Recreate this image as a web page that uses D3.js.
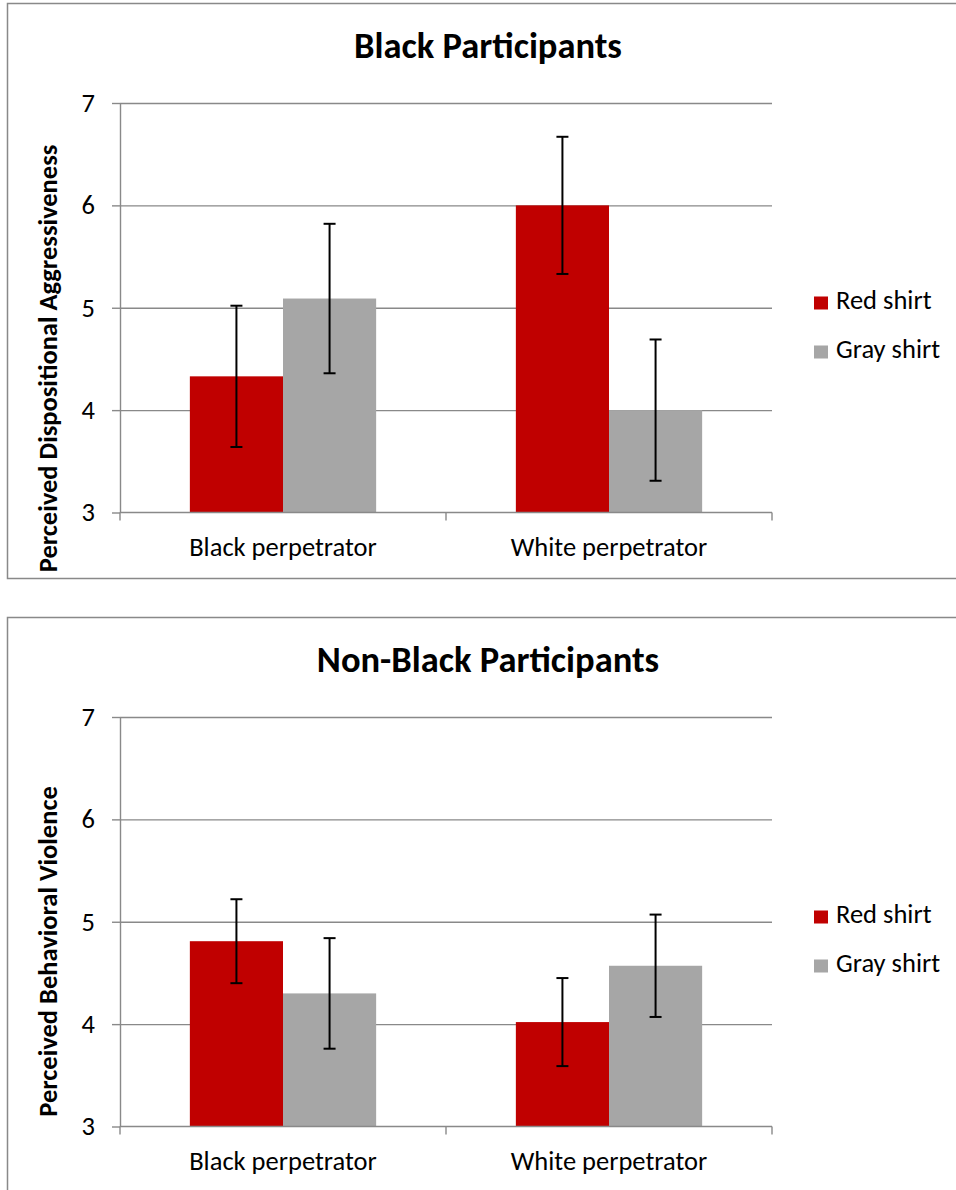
<!DOCTYPE html>
<html>
<head>
<meta charset="utf-8">
<script src="https://cdn.jsdelivr.net/npm/d3@7"></script>
<style>
  html, body { margin: 0; padding: 0; background: #fff; }
  svg { display: block; }
  text { font-family: Calibri, Carlito, Lato, sans-serif; fill: #000; }
</style>
</head>
<body>
<svg id="chart" width="956" height="1190"></svg>
<script>
// Categories, series and axis ticks
const groups = ["Black perpetrator", "White perpetrator"];
const seriesNames = ["Red shirt", "Gray shirt"];
const seriesColors = ["#C00000", "#A6A6A6"];
const yTicks = [3, 4, 5, 6, 7];

// Black participants: means and error half-widths
const blackRed = [4.33, 6.00];
const blackRedErr = [0.69, 0.67];
const blackGray = [5.09, 4.00];
const blackGrayErr = [0.73, 0.69];

// Non-black participants: means and error half-widths
const nonBlackRed = [4.81, 4.02];
const nonBlackRedErr = [0.41, 0.43];
const nonBlackGray = [4.30, 4.57];
const nonBlackGrayErr = [0.54, 0.50];

const panels = [
  {
    title: "Black Participants",
    yLabel: "Perceived Dispositional Aggressiveness",
    top: 3.5,
    height: 575,
    labelMid: 355,
    means: [blackRed, blackGray],
    errs: [blackRedErr, blackGrayErr]
  },
  {
    title: "Non-Black Participants",
    yLabel: "Perceived Behavioral Violence",
    top: 617.5,
    height: 600,
    labelMid: 334,
    means: [nonBlackRed, nonBlackGray],
    errs: [nonBlackRedErr, nonBlackGrayErr]
  }
];

const svg = d3.select("#chart");
const gridColor = "#898989";
const fontStack = "Calibri, Carlito, Lato, sans-serif";
const labelSize = 26.5;

const plotLeft = 120, plotRight = 772;
const plotTop = 99.5, plotBottom = 509;   // relative to panel top

panels.forEach(p => {
  const g = svg.append("g").attr("transform", `translate(0,${p.top})`);

  // panel frame
  g.append("rect")
    .attr("x", 7.5).attr("y", 0)
    .attr("width", 970).attr("height", p.height)
    .attr("fill", "#fff")
    .attr("stroke", gridColor).attr("stroke-width", 1.5);

  const x = d3.scaleBand().domain(groups).range([plotLeft, plotRight]).padding(0);
  const gap = x.bandwidth() / 3.5 * 1.5;
  const xs = d3.scaleBand().domain(seriesNames).range([gap / 2, x.bandwidth() - gap / 2]).padding(0);
  const y = d3.scaleLinear().domain([3, 7]).range([plotBottom, plotTop]);

  // horizontal gridlines
  g.append("g")
    .attr("transform", `translate(${plotLeft},0)`)
    .call(d3.axisLeft(y).tickValues(yTicks.slice(1)).tickSize(-(plotRight - plotLeft)).tickFormat(""))
    .call(a => a.select(".domain").remove())
    .call(a => a.selectAll("line").attr("stroke", gridColor).attr("stroke-width", 1.4));

  // y axis with tick marks and labels
  g.append("g")
    .attr("transform", `translate(${plotLeft},0)`)
    .call(d3.axisLeft(y).tickValues(yTicks).tickSize(8).tickSizeOuter(0).tickPadding(17).tickFormat(d3.format("d")))
    .call(a => a.select(".domain").attr("stroke", gridColor).attr("stroke-width", 1.4))
    .call(a => a.selectAll("line").attr("stroke", gridColor).attr("stroke-width", 1.4))
    .call(a => a.selectAll("text")
      .style("font-family", fontStack)
      .attr("font-size", labelSize).attr("fill", "#000"));

  // bars
  p.means.forEach((vals, si) => {
    g.append("g").selectAll("rect")
      .data(groups.map((grp, i) => ({ grp, v: vals[i] })))
      .join("rect")
      .attr("x", d => x(d.grp) + xs(seriesNames[si]))
      .attr("width", xs.bandwidth())
      .attr("y", d => y(d.v))
      .attr("height", d => y(3) - y(d.v))
      .attr("fill", seriesColors[si]);
  });

  // x axis line and category boundary ticks
  g.append("line")
    .attr("x1", plotLeft).attr("x2", plotRight)
    .attr("y1", y(3)).attr("y2", y(3))
    .attr("stroke", gridColor).attr("stroke-width", 1.4);
  const bounds = groups.map(d => x(d)).concat([x.range()[1]]);
  g.append("g").selectAll("line").data(bounds).join("line")
    .attr("x1", d => d).attr("x2", d => d)
    .attr("y1", y(3)).attr("y2", y(3) + 8)
    .attr("stroke", gridColor).attr("stroke-width", 1.4);

  // category labels
  g.append("g").selectAll("text").data(groups).join("text")
    .attr("x", d => x(d) + x.bandwidth() / 2)
    .attr("y", y(3) + 43)
    .attr("text-anchor", "middle")
    .attr("font-size", labelSize)
    .text(d => d);

  // error bars
  p.means.forEach((vals, si) => {
    const eg = g.append("g").attr("stroke", "#000").attr("stroke-width", 2);
    groups.forEach((grp, i) => {
      const cx = x(grp) + xs(seriesNames[si]) + xs.bandwidth() / 2;
      const hi = y(vals[i] + p.errs[si][i]);
      const lo = y(vals[i] - p.errs[si][i]);
      eg.append("line").attr("x1", cx).attr("x2", cx).attr("y1", hi).attr("y2", lo);
      eg.append("line").attr("x1", cx - 6).attr("x2", cx + 6).attr("y1", hi).attr("y2", hi);
      eg.append("line").attr("x1", cx - 6).attr("x2", cx + 6).attr("y1", lo).attr("y2", lo);
    });
  });

  // title
  g.append("text")
    .attr("x", 488).attr("y", 54)
    .attr("text-anchor", "middle")
    .attr("font-size", 36.5).attr("font-weight", "bold")
    .text(p.title);

  // y axis title
  g.append("text")
    .attr("transform", `translate(57,${p.labelMid}) rotate(-90)`)
    .attr("text-anchor", "middle")
    .attr("font-size", labelSize).attr("font-weight", "bold")
    .text(p.yLabel);

  // legend
  const lg = g.append("g").attr("transform", "translate(814,293)");
  seriesNames.forEach((s, i) => {
    lg.append("rect")
      .attr("x", 0).attr("y", i * 49)
      .attr("width", 14).attr("height", 13)
      .attr("fill", seriesColors[i]);
    lg.append("text")
      .attr("x", 22).attr("y", i * 49 + 12.5)
      .attr("font-size", labelSize)
      .text(s);
  });
});
</script>
</body>
</html>
